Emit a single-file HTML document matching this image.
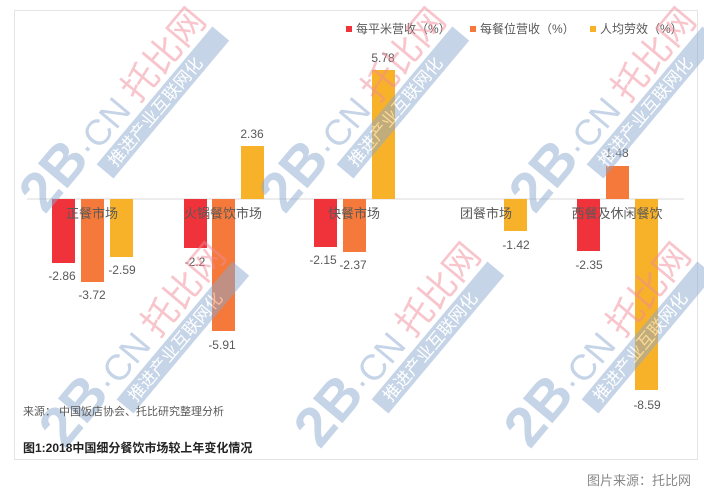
<!DOCTYPE html>
<html><head><meta charset="utf-8"><style>
body{margin:0;background:#fff;width:704px;height:495px;overflow:hidden;font-family:"Liberation Sans","Noto Sans CJK SC",sans-serif}
</style></head><body>
<svg width="704" height="495" xmlns="http://www.w3.org/2000/svg" font-family="Liberation Sans, Noto Sans CJK SC, sans-serif">
<rect x="14.5" y="10.5" width="683" height="449" fill="#fff" stroke="#e4e4e4"/>
<line x1="27" y1="199" x2="684" y2="199" stroke="#d9d9d9" stroke-width="1"/>
<g font-size="12" fill="#595959">
<rect x="346" y="26" width="6" height="6" fill="#f0323a"/><text x="356" y="33">每平米营收（%）</text>
<rect x="470" y="26" width="6" height="6" fill="#f5793a"/><text x="480" y="33">每餐位营收（%）</text>
<rect x="590" y="26" width="6" height="6" fill="#f8b22a"/><text x="600" y="33">人均劳效（%）</text>
</g>
<g>
<rect x="52" y="199" width="23" height="64" fill="#f0323a"/>
<rect x="81" y="199" width="23" height="83" fill="#f5793a"/>
<rect x="110" y="199" width="23" height="58" fill="#f8b22a"/>
<rect x="184" y="199" width="23" height="49" fill="#f0323a"/>
<rect x="212" y="199" width="23" height="132" fill="#f5793a"/>
<rect x="241" y="146" width="23" height="53" fill="#f8b22a"/>
<rect x="314" y="199" width="23" height="48" fill="#f0323a"/>
<rect x="343" y="199" width="23" height="53" fill="#f5793a"/>
<rect x="372" y="70" width="23" height="129" fill="#f8b22a"/>
<rect x="504" y="199" width="23" height="32" fill="#f8b22a"/>
<rect x="577" y="199" width="23" height="52" fill="#f0323a"/>
<rect x="606" y="166" width="23" height="33" fill="#f5793a"/>
<rect x="635" y="199" width="23" height="191" fill="#f8b22a"/>
</g>
<g font-size="12" fill="#595959" text-anchor="middle">
<text x="62" y="280">-2.86</text><text x="92" y="299">-3.72</text><text x="122" y="274">-2.59</text>
<text x="195" y="266">-2.2</text><text x="222" y="349">-5.91</text><text x="252" y="138">2.36</text>
<text x="323" y="264">-2.15</text><text x="353" y="269">-2.37</text><text x="383" y="62">5.78</text>
<text x="516" y="249">-1.42</text>
<text x="589" y="269">-2.35</text><text x="617" y="157">1.48</text><text x="647" y="409">-8.59</text>
</g>
<g font-size="13" fill="#595959" text-anchor="middle">
<text x="92" y="218">正餐市场</text><text x="223" y="218">火锅餐饮市场</text><text x="354" y="218">快餐市场</text><text x="486" y="218">团餐市场</text><text x="617" y="218">西餐及休闲餐饮</text>
</g>
<g opacity="0.5">
<g transform="translate(45,215) rotate(-50)"><text font-size="56" fill="#8aa9cf" font-weight="bold">2B</text><text x="72" font-size="36" fill="#8aa9cf">·CN</text><text x="145" font-size="36" fill="#ef8a96">托比网</text><rect x="72" y="7" width="180" height="22" fill="#8aa9cf"/><text x="82" y="24" font-size="17" fill="#fff">推进产业互联网化</text></g>
<g transform="translate(285,215) rotate(-50)"><text font-size="56" fill="#8aa9cf" font-weight="bold">2B</text><text x="72" font-size="36" fill="#8aa9cf">·CN</text><text x="145" font-size="36" fill="#ef8a96">托比网</text><rect x="72" y="7" width="180" height="22" fill="#8aa9cf"/><text x="82" y="24" font-size="17" fill="#fff">推进产业互联网化</text></g>
<g transform="translate(535,215) rotate(-50)"><text font-size="56" fill="#8aa9cf" font-weight="bold">2B</text><text x="72" font-size="36" fill="#8aa9cf">·CN</text><text x="145" font-size="36" fill="#ef8a96">托比网</text><rect x="72" y="7" width="180" height="22" fill="#8aa9cf"/><text x="82" y="24" font-size="17" fill="#fff">推进产业互联网化</text></g>
<g transform="translate(65,450) rotate(-50)"><text font-size="56" fill="#8aa9cf" font-weight="bold">2B</text><text x="72" font-size="36" fill="#8aa9cf">·CN</text><text x="145" font-size="36" fill="#ef8a96">托比网</text><rect x="72" y="7" width="180" height="22" fill="#8aa9cf"/><text x="82" y="24" font-size="17" fill="#fff">推进产业互联网化</text></g>
<g transform="translate(320,450) rotate(-50)"><text font-size="56" fill="#8aa9cf" font-weight="bold">2B</text><text x="72" font-size="36" fill="#8aa9cf">·CN</text><text x="145" font-size="36" fill="#ef8a96">托比网</text><rect x="72" y="7" width="180" height="22" fill="#8aa9cf"/><text x="82" y="24" font-size="17" fill="#fff">推进产业互联网化</text></g>
<g transform="translate(530,450) rotate(-50)"><text font-size="56" fill="#8aa9cf" font-weight="bold">2B</text><text x="72" font-size="36" fill="#8aa9cf">·CN</text><text x="145" font-size="36" fill="#ef8a96">托比网</text><rect x="72" y="7" width="180" height="22" fill="#8aa9cf"/><text x="82" y="24" font-size="17" fill="#fff">推进产业互联网化</text></g>
</g>
<text x="23" y="415" font-size="11" fill="#595959">来源： 中国饭店协会、托比研究整理分析</text>
<text x="23" y="452" font-size="12" fill="#222" font-weight="bold">图1:2018中国细分餐饮市场较上年变化情况</text>
<text x="691" y="485" font-size="13" fill="#888" text-anchor="end">图片来源：托比网</text>
</svg>
</body></html>
